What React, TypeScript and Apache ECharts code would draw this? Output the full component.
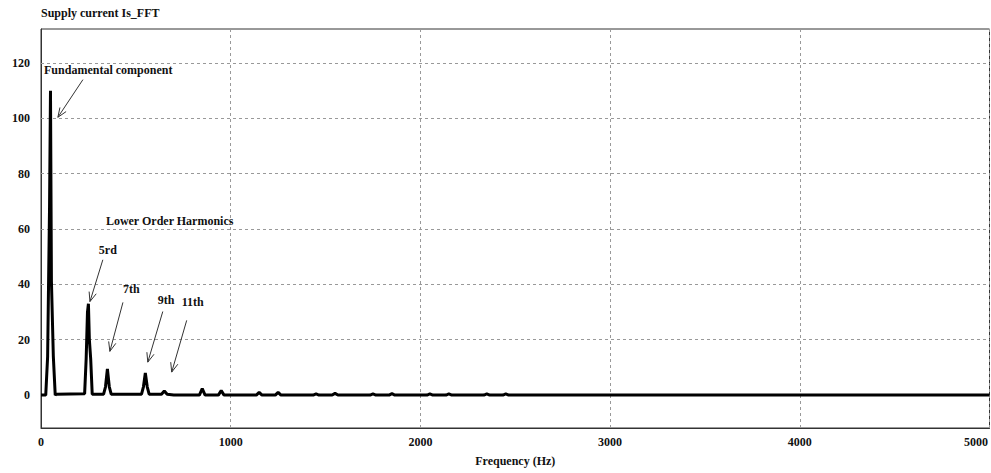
import React, { useEffect, useRef } from "react";
import * as echarts from "echarts";

// Spectrum samples: [frequency Hz, amplitude]
const spectrum: [number, number][] = [
  [0, 0], [25, 0], [35, 14], [45, 68], [50, 110], [55, 41], [65, 14], [75, 0],
  [80, 0.3], [230, 0.5], [238, 13], [245, 30], [250, 33], [255, 20], [262, 13], [270, 0.3],
  [330, 0.3], [340, 3], [350, 9.5], [360, 3], [370, 0.3],
  [530, 0.3], [540, 3], [550, 8], [560, 3], [570, 0.3],
  [635, 0.3], [650, 1.5], [665, 0.3], [700, 0],
  [835, 0], [850, 2.3], [865, 0],
  [935, 0], [950, 1.6], [965, 0],
  [1135, 0], [1150, 1.0], [1165, 0],
  [1235, 0], [1250, 1.0], [1265, 0],
  [1435, 0], [1450, 0.4], [1465, 0],
  [1535, 0], [1550, 0.6], [1565, 0],
  [1735, 0], [1750, 0.4], [1765, 0],
  [1835, 0], [1850, 0.5], [1865, 0],
  [2035, 0], [2050, 0.4], [2065, 0],
  [2135, 0], [2150, 0.4], [2165, 0],
  [2335, 0], [2350, 0.4], [2365, 0],
  [2435, 0], [2450, 0.4], [2465, 0],
  [5000, 0],
];

const yTickValues = [0, 20, 40, 60, 80, 100, 120];
const yGridValues = [20, 40, 60, 80, 100, 120];

// Annotation texts: [label, frequency, amplitude] (left edge, vertical middle)
const annotationTexts: [string, number, number][] = [
  ["Fundamental component", 16, 117.6],
  ["Lower Order Harmonics", 342, 63],
  ["5rd", 305, 52.5],
  ["7th", 432, 38.5],
  ["9th", 616, 34.5],
  ["11th", 742, 33.5],
];

// Arrows: [fromF, fromY, toF, toY]
const annotationArrows: [number, number, number, number][] = [
  [221, 114, 89, 100.4],
  [326, 48.9, 258, 33.8],
  [432, 33.5, 363, 15.8],
  [642, 30.2, 563, 11.9],
  [768, 27, 689, 8.3],
];

const FONT = "Liberation Serif";

export default function App() {
  const ref = useRef<HTMLDivElement>(null);

  useEffect(() => {
    if (!ref.current) return;
    const chart = echarts.init(ref.current, undefined, { renderer: "svg" });
    const option: any = {
      animation: false,
      backgroundColor: "#ffffff",
      textStyle: { fontFamily: FONT },
      title: {
        text: "Supply current Is_FFT",
        left: 36,
        top: 2,
        textStyle: { fontFamily: FONT, fontWeight: "bold", fontSize: 12, color: "#111" },
      },
      grid: {
        left: 41,
        right: 1,
        top: 29,
        bottom: 45,
        show: true,
        borderColor: "#333",
        borderWidth: 1,
        backgroundColor: "transparent",
      },
      xAxis: {
        type: "value",
        min: 0,
        max: 5000,
        interval: 1000,
        name: "Frequency (Hz)",
        nameLocation: "middle",
        nameGap: 27,
        nameTextStyle: { fontFamily: FONT, fontWeight: "bold", fontSize: 12, color: "#111" },
        axisLine: { show: true, onZero: false, lineStyle: { color: "#333", width: 1 } },
        axisTick: { show: false },
        axisLabel: {
          fontFamily: FONT,
          fontWeight: "bold",
          fontSize: 12,
          color: "#111",
          margin: 8,
          formatter: (v: number) => (v === 5000 ? "{r|" + v + "}" : String(v)),
          rich: {
            r: {
              fontFamily: FONT,
              fontWeight: "bold",
              fontSize: 12,
              color: "#111",
              padding: [0, 27, 0, 0],
            },
          },
        },
        splitLine: { show: true, lineStyle: { color: "#999", type: [3, 3], width: 1 } },
      },
      yAxis: {
        type: "value",
        min: -11.9,
        max: 132.3,
        axisLine: { show: true, lineStyle: { color: "#333", width: 1 } },
        axisTick: { show: false, customValues: yTickValues },
        axisLabel: {
          customValues: yTickValues,
          fontFamily: FONT,
          fontWeight: "bold",
          fontSize: 12,
          color: "#111",
          margin: 11,
        },
        splitLine: { show: false },
      },
      series: [
        {
          type: "line",
          data: spectrum,
          showSymbol: false,
          symbol: "none",
          lineStyle: { color: "#000", width: 3 },
          z: 5,
          markLine: {
            silent: true,
            symbol: "none",
            label: { show: false },
            lineStyle: { color: "#999", type: [3, 3], width: 1 },
            data: yGridValues.map((v) => ({ yAxis: v })),
            z: 1,
          },
        },
      ],
    };
    chart.setOption(option);

    const graphics: any[] = [];
    annotationTexts.forEach(([t, f, y]) => {
      const p = chart.convertToPixel({ gridIndex: 0 }, [f, y]) as number[];
      graphics.push({
        type: "text",
        x: p[0],
        y: p[1],
        style: {
          text: t,
          fontFamily: FONT,
          fontWeight: "bold",
          fontSize: 12,
          fill: "#111",
          textVerticalAlign: "middle",
          textAlign: "left",
        },
        z: 10,
      });
    });
    annotationArrows.forEach(([f1, y1, f2, y2]) => {
      const a = chart.convertToPixel({ gridIndex: 0 }, [f1, y1]) as number[];
      const b = chart.convertToPixel({ gridIndex: 0 }, [f2, y2]) as number[];
      const ang = Math.atan2(b[1] - a[1], b[0] - a[0]);
      const len = 10;
      const spread = 0.38;
      const h1 = [b[0] - len * Math.cos(ang - spread), b[1] - len * Math.sin(ang - spread)];
      const h2 = [b[0] - len * Math.cos(ang + spread), b[1] - len * Math.sin(ang + spread)];
      graphics.push({
        type: "line",
        shape: { x1: a[0], y1: a[1], x2: b[0], y2: b[1] },
        style: { stroke: "#333", lineWidth: 1 },
        z: 10,
      });
      graphics.push({
        type: "polyline",
        shape: { points: [h1, b, h2] },
        style: { stroke: "#333", lineWidth: 1, fill: null },
        z: 10,
      });
    });
    chart.setOption({ graphic: graphics });

    return () => chart.dispose();
  }, []);

  return (
    <div
      ref={ref}
      style={{ position: "absolute", left: 0, top: 0, width: 991, height: 473 }}
    />
  );
}
